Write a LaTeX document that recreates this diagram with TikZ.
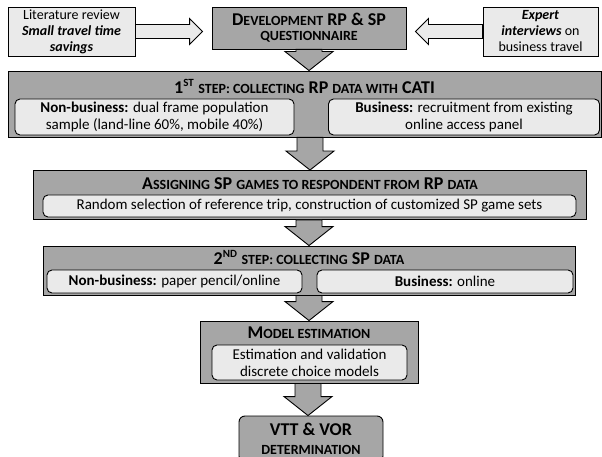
\documentclass[tikz,border=0pt]{standalone}
\usepackage{fontspec}
\setmainfont{Carlito}
\usetikzlibrary{positioning,calc}
\definecolor{darkfill}{RGB}{166,166,166}
\definecolor{lightfill}{RGB}{234,234,234}
\newcommand{\fsc}[1]{{\fontsize{14}{14}\selectfont\MakeUppercase{#1}}}
\newcommand{\sups}[1]{\textsuperscript{\fontsize{11}{11}\selectfont #1}}

\begin{document}
\begin{tikzpicture}[x=1pt,y=-1pt,
  outer/.style={draw,line width=0.9pt,fill=darkfill,inner sep=0pt},
  inner/.style={draw,line width=0.9pt,fill=lightfill,rounded corners=5pt,inner sep=0pt,align=center,font=\fontsize{15}{17}\selectfont},
  side/.style={draw,line width=0.9pt,fill=lightfill,inner sep=0pt,align=center,font=\fontsize{14}{16}\selectfont},
  ttl/.style={inner sep=0pt,align=center,font=\fontsize{18}{15}\selectfont\bfseries},
  downarr/.style={draw,line width=0.9pt,fill=darkfill,
    to path={let \p1=(\tikztostart),\p2=(\tikztotarget) in
      (\x2-13pt,\y1) -- (\x2+13pt,\y1) -- (\x2+13pt,\y2+19pt) -- (\x2+24pt,\y2+19pt)
      -- (\x2,\y2) -- (\x2-24pt,\y2+19pt) -- (\x2-13pt,\y2+19pt) -- cycle}},
  harr/.style={draw,line width=0.9pt,fill=lightfill,
    to path={let \p1=(\tikztostart),\p2=(\tikztotarget),\n1={#1} in
      (\x1,\y2+7pt) -- ({\x2-\n1*1pt},\y2+7pt) -- ({\x2-\n1*1pt},\y2+13pt) -- (\x2,\y2)
      -- ({\x2-\n1*1pt},\y2-13pt) -- ({\x2-\n1*1pt},\y2-7pt) -- (\x1,\y2-7pt) -- cycle}}]
\useasboundingbox (0,0) rectangle (602,457);

% top row
\node[side,minimum width=127pt,minimum height=49pt] (lit) at (71.5,31.5) {Literature review\\\textbf{\textit{Small travel time}}\\\textbf{\textit{savings}}};
\node[outer,ttl,minimum width=194pt,minimum height=42pt] (dev) at (309,28) {D\fsc{evelopment} RP \& SP\\\fsc{questionnaire}};
\node[side,minimum width=115pt,minimum height=49pt] (exp) at (540.5,31.5) {\textbf{\textit{Expert}}\\\textbf{\textit{interviews}} on\\business travel};
\coordinate (littip) at ([xshift=-9pt]dev.west |- lit.east);
\coordinate (exptip) at ([xshift=9pt]dev.east |- exp.west);
\draw[harr=13] (lit.east) to (littip);
\draw[harr=-13] (exp.west) to (exptip);

% step 1
\node[outer,minimum width=593pt,minimum height=66pt] (s1) at (304.5,104) {};
\node[ttl,below=9pt of s1.north] (s1t) {1\sups{ST} \fsc{step: collecting} RP \fsc{data with} CATI};
\node[inner,minimum width=279pt,minimum height=36pt] (nb1) at (154.5,117) {\textbf{Non-business:} dual frame population\\sample (land-line 60\%, mobile 40\%)};
\node[inner,minimum width=271pt,minimum height=36pt] (b1) at (464,117) {\textbf{Business:} recruitment from existing\\online access panel};

% assignment
\node[outer,minimum width=553pt,minimum height=49pt] (s2) at (310,195) {};
\node[ttl,below=7pt of s2.north] (s2t) {A\fsc{ssigning} SP \fsc{games to respondent from} RP \fsc{data}};
\node[inner,minimum width=533pt,minimum height=22pt] (rand) at (309.5,206) {Random selection of reference trip, construction of customized SP game sets};

% step 2
\node[outer,minimum width=532pt,minimum height=49pt] (s3) at (309,270.5) {};
\node[ttl,below=5pt of s3.north] (s3t) {2\sups{ND} \fsc{step: collecting} SP \fsc{data}};
\node[inner,minimum width=255pt,minimum height=23pt] (nb2) at (174.5,281.5) {\textbf{Non-business:} paper pencil/online};
\node[inner,minimum width=256pt,minimum height=23pt] (b2) at (445,281.5) {\textbf{Business:} online};

% estimation
\node[outer,minimum width=218pt,minimum height=62pt] (s4) at (309,352) {};
\node[ttl,below=6pt of s4.north] (s4t) {M\fsc{odel estimation}};
\node[inner,minimum width=195pt,minimum height=35pt] (est) at (309.5,362.5) {Estimation and validation\\discrete choice models};

% result
\node[outer,ttl,rounded corners=6pt,minimum width=144pt,minimum height=46pt,font=\fontsize{18}{19}\selectfont\bfseries] (vtt) at (311,439) {VTT \& VOR\\\fsc{determination}};
\coordinate (vtttop) at ([xshift=-3pt]vtt.north);

\draw[downarr] (dev.south) to (dev.south |- s1.north);
\draw[downarr] (s1.south) to (s2.north);
\draw[downarr] (s2.south) to (s3.north);
\draw[downarr] (s3.south) to (s4.north);
\draw[downarr] (s4.south) to (vtttop);
\end{tikzpicture}
\end{document}
